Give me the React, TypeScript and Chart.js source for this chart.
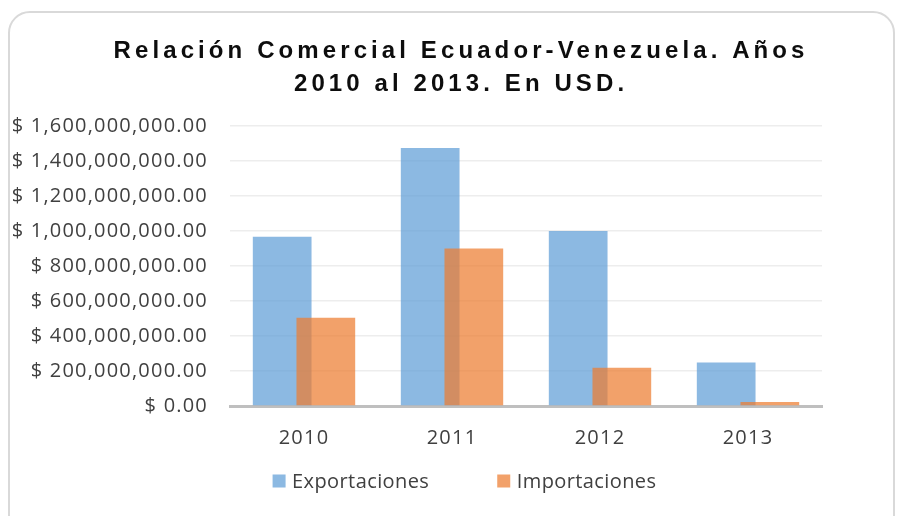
import React, { useEffect, useRef } from "react";
import { Chart, registerables } from "chart.js";

Chart.register(...registerables);

const years = ["2010", "2011", "2012", "2013"];
const exportaciones = [967e6, 1474e6, 1000e6, 248e6];
const importaciones = [505e6, 900e6, 219e6, 23e6];
const seriesNames = ["Exportaciones", "Importaciones"];
const titleLines = ["Relación Comercial Ecuador-Venezuela. Años", "2010 al 2013. En USD."];
const yMin = 0;
const yMax = 1600000000;
const yStep = 200000000;

const BLUE = "rgba(91,155,213,0.7)";
const ORANGE = "rgba(237,125,49,0.72)";
const TICK_FONT = "Open Sans";
const TICK_SIZE = 20;
const TICK_SPACING = "1.2px";
const LEGEND_SPACING = "0.4px";
const TITLE_SPACING = 4.1;

const fmt = (v: number) =>
  "$ " + v.toLocaleString("en-US", { minimumFractionDigits: 2, maximumFractionDigits: 2 });

const spacingPlugin = {
  id: "spacing",
  beforeUpdate(chart: any) {
    chart.ctx.letterSpacing = TICK_SPACING;
  },
  beforeDraw(chart: any) {
    chart.ctx.letterSpacing = TICK_SPACING;
  },
  // draw the second series on top of the first (as in the original)
  beforeDatasetDraw(chart: any, args: any) {
    if (args.index === 1 && !chart.$drawingTop) return false;
  },
  afterDatasetsDraw(chart: any) {
    const meta = chart.getDatasetMeta(1);
    if (!meta || meta.hidden) return;
    const ctx = chart.ctx;
    const a = chart.chartArea;
    ctx.save();
    ctx.beginPath();
    ctx.rect(a.left, a.top - 2, a.right - a.left, a.bottom - a.top + 2);
    ctx.clip();
    chart.$drawingTop = true;
    meta.controller.draw();
    chart.$drawingTop = false;
    ctx.restore();
  },
};

const decorPlugin = {
  id: "decor",
  afterDraw(chart: any) {
    const ctx = chart.ctx as any;
    // Title
    ctx.save();
    ctx.letterSpacing = TITLE_SPACING + "px";
    ctx.font = "bold 24px 'Liberation Sans', Arial, sans-serif";
    ctx.fillStyle = "#0d0d0d";
    ctx.textBaseline = "middle";
    ctx.textAlign = "left";
    const cx = 459;
    titleLines.forEach((line, i) => {
      const w = ctx.measureText(line).width - TITLE_SPACING;
      ctx.fillText(line, cx - w / 2, 51 + i * 33.5);
    });
    ctx.restore();

    // Legend
    ctx.save();
    ctx.letterSpacing = LEGEND_SPACING;
    ctx.font = `${TICK_SIZE}px '${TICK_FONT}', sans-serif`;
    ctx.textBaseline = "middle";
    ctx.textAlign = "left";
    const box = 13;
    const gapBox = 6.5;
    const gapItem = 68;
    const colors = chart.data.datasets.map((d: any) => d.backgroundColor);
    const labels = chart.data.datasets.map((d: any) => d.label);
    const widths = labels.map((l: string) => box + gapBox + ctx.measureText(l).width);
    const total = widths.reduce((a: number, b: number) => a + b, 0) + gapItem * (labels.length - 1);
    let x = 464.5 - total / 2;
    const y = 481;
    labels.forEach((l: string, i: number) => {
      ctx.fillStyle = colors[i];
      ctx.fillRect(x, y - box / 2, box, box);
      ctx.fillStyle = "#404040";
      ctx.fillText(l, x + box + gapBox, y + 1);
      x += widths[i] + gapItem;
    });
    ctx.restore();
  },
};

export default function App() {
  const ref = useRef<HTMLCanvasElement | null>(null);
  useEffect(() => {
    if (!ref.current) return;
    const chart = new Chart(ref.current, {
      type: "bar",
      data: {
        labels: years,
        datasets: [
          {
            label: seriesNames[0],
            data: exportaciones,
            backgroundColor: BLUE,
            borderWidth: 0,
            categoryPercentage: 0.59,
            barPercentage: 1.345,
          },
          {
            label: seriesNames[1],
            data: importaciones,
            backgroundColor: ORANGE,
            borderWidth: 0,
            categoryPercentage: 0.59,
            barPercentage: 1.345,
          },
        ],
      },
      options: {
        animation: false,
        responsive: false,
        maintainAspectRatio: false,
        layout: { padding: { top: 126, bottom: 46, left: 0, right: 75 } },
        plugins: {
          legend: { display: false },
          title: { display: false },
          tooltip: { enabled: false },
        },
        scales: {
          x: {
            grid: { display: false, drawTicks: false },
            border: { display: true, color: "#bfbfbf", width: 3 },
            ticks: {
              color: "#404040",
              padding: 20,
              font: { family: TICK_FONT, size: TICK_SIZE },
            },
          },
          y: {
            min: yMin,
            max: yMax,
            afterFit(scale: any) {
              scale.width = 230;
            },
            grid: { color: "#ededed", lineWidth: 1.5, drawTicks: false },
            border: { display: false },
            ticks: {
              stepSize: yStep,
              color: "#404040",
              padding: 22,
              font: { family: TICK_FONT, size: TICK_SIZE },
              callback: (v: any) => fmt(Number(v)),
            },
          },
        },
      },
      plugins: [spacingPlugin, decorPlugin],
    });
    return () => chart.destroy();
  }, []);

  return (
    <div
      style={{
        position: "fixed",
        left: 0,
        top: 0,
        width: 897,
        height: 516,
        background: "#ffffff",
        overflow: "hidden",
      }}
    >
      <div
        style={{
          position: "absolute",
          left: 8,
          top: 11,
          width: 883,
          height: 540,
          border: "2px solid #d9d9d9",
          borderRadius: 22,
          boxSizing: "content-box",
        }}
      />
      <canvas
        ref={ref}
        width={897}
        height={516}
        style={{ position: "absolute", left: 0, top: 0, width: 897, height: 516, display: "block" }}
      />
    </div>
  );
}
